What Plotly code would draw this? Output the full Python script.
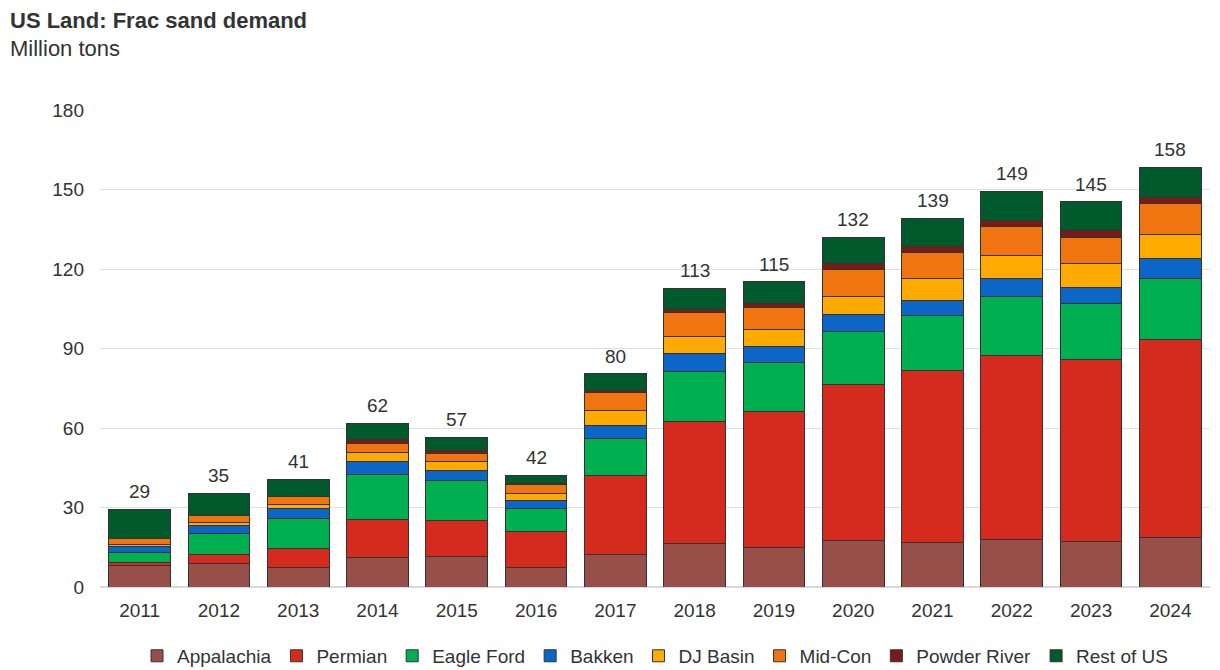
import plotly.graph_objects as go

years = ["2011", "2012", "2013", "2014", "2015", "2016", "2017", "2018", "2019", "2020", "2021", "2022", "2023", "2024"]

appalachia   = [8.0, 8.9, 7.4, 11.2, 11.6, 7.4, 12.3, 16.5, 15.0, 17.6, 16.9, 18.0, 17.2, 18.8]
permian      = [1.2, 3.4, 7.2, 14.3, 13.6, 13.6, 29.7, 46.0, 51.3, 58.9, 64.9, 69.3, 68.7, 74.5]
eagle_ford   = [3.7, 8.0, 11.2, 16.9, 15.1, 8.7, 14.0, 18.9, 18.5, 19.8, 20.6, 22.2, 21.2, 23.0]
bakken       = [2.5, 2.8, 3.7, 5.0, 3.7, 3.0, 5.0, 6.8, 6.0, 6.7, 5.8, 6.8, 6.0, 7.7]
dj_basin     = [0.6, 1.2, 1.6, 3.4, 3.4, 2.5, 5.7, 6.4, 6.4, 6.7, 8.3, 8.9, 9.1, 8.9]
mid_con      = [2.3, 2.6, 3.0, 3.4, 3.1, 3.4, 6.8, 8.9, 8.3, 10.2, 9.7, 10.8, 9.6, 11.7]
powder_river = [0.1, 0.1, 0.2, 1.3, 1.1, 0.3, 0.8, 1.1, 1.4, 2.0, 2.2, 2.2, 2.7, 2.2]
rest_of_us   = [11.0, 8.4, 6.3, 6.3, 4.9, 3.3, 6.1, 8.2, 8.2, 10.1, 10.7, 11.2, 10.8, 11.6]
totals       = [29, 35, 41, 62, 57, 42, 80, 113, 115, 132, 139, 149, 145, 158]

series = [
    ("Appalachia", appalachia, "#975049"),
    ("Permian", permian, "#D42B1E"),
    ("Eagle Ford", eagle_ford, "#00B050"),
    ("Bakken", bakken, "#0B66C8"),
    ("DJ Basin", dj_basin, "#FFAA00"),
    ("Mid-Con", mid_con, "#F07511"),
    ("Powder River", powder_river, "#7B1B15"),
    ("Rest of US", rest_of_us, "#005A2B"),
]

FONT = "Liberation Sans, Arial, sans-serif"
TXT = "#333333"
fig = go.Figure()
for name, vals, col in series:
    fig.add_trace(go.Bar(
        x=years, y=vals, name=name,
        marker=dict(color=col, line=dict(color="#333333", width=1)),
    ))

stack_tops = [sum(s[1][i] for s in series) for i in range(len(years))]
for idx, (top, tot) in enumerate(zip(stack_tops, totals)):
    # category axis: annotation x given as the category index
    fig.add_annotation(x=idx, y=top, text=str(tot), showarrow=False,
                       xanchor="center", yanchor="bottom", yshift=5,
                       font=dict(size=19, color=TXT, family=FONT))

fig.add_annotation(xref="paper", yref="paper", x=0, y=1, xanchor="left", yanchor="middle",
                   text="<b>US Land: Frac sand demand</b>", showarrow=False,
                   font=dict(size=22, color=TXT, family=FONT), xshift=-92, yshift=90)
fig.add_annotation(xref="paper", yref="paper", x=0, y=1, xanchor="left", yanchor="middle",
                   text="Million tons", showarrow=False,
                   font=dict(size=22, color=TXT, family=FONT), xshift=-92, yshift=62)

fig.update_layout(
    barmode="stack",
    bargap=0.22,
    width=1220, height=670,
    margin=dict(l=100, r=10, t=110, b=83, autoexpand=False),
    paper_bgcolor="white", plot_bgcolor="white",
    font=dict(family=FONT, size=19, color=TXT),
    xaxis=dict(type="category", categoryorder="array", categoryarray=years,
               range=[-0.5, len(years) - 0.5],
               showgrid=False, showline=False, ticks="outside", ticklen=6,
               tickcolor="rgba(0,0,0,0)", tickfont=dict(size=19)),
    yaxis=dict(range=[0, 180], dtick=30, showgrid=True, gridcolor="#E0E0E0",
               zeroline=True, zerolinecolor="#D9D9D9", ticks="", ticklabelstandoff=15,
               tickfont=dict(size=19)),
    legend=dict(orientation="h", x=0.5, xanchor="center", yref="container",
                y=0.021, yanchor="middle",
                font=dict(size=19, color=TXT), traceorder="normal",
                itemwidth=30),
)

fig.write_html("out.html")
